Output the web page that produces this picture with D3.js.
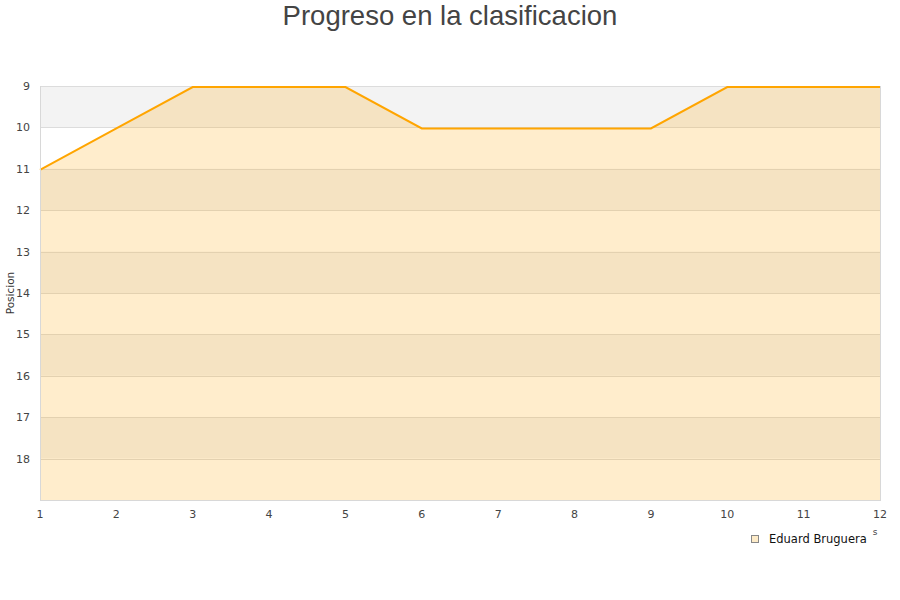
<!DOCTYPE html>
<html><head><meta charset="utf-8">
<script src="https://cdn.jsdelivr.net/npm/d3@7"></script>
<style>body{margin:0;background:#fff}svg{display:block}</style>
</head><body>
<svg id="c" width="900" height="600"></svg>
<script>
const rounds = [1,2,3,4,5,6,7,8,9,10,11,12];
const positions = [11,10,9,9,9,10,10,10,10,9,9,9];
const yTicks = [9,10,11,12,13,14,15,16,17,18];
const seriesName = "Eduard Bruguera";
const title = "Progreso en la clasificacion";
const yTitle = "Posicion";

const svg = d3.select("#c");
const L=40,R=880,T=86,B=500;
const x = d3.scaleLinear().domain([1,12]).range([L,R]);
const y = d3.scaleLinear().domain([9,19]).range([T,B]);

const bands = d3.range(9,19);
svg.selectAll("rect.band").data(bands).enter().append("rect")
  .attr("x",L).attr("width",R-L)
  .attr("y",d=>y(d)).attr("height",d=>y(d+1)-y(d))
  .attr("fill",(d,i)=>i%2===0?"#f3f3f3":"#ffffff");

svg.selectAll("line.grid").data(d3.range(9,20)).enter().append("line")
  .attr("x1",L).attr("x2",R)
  .attr("y1",d=>Math.round(y(d))+0.5).attr("y2",d=>Math.round(y(d))+0.5)
  .attr("stroke","#dcdcdc").attr("stroke-width",1);

const area = d3.area().x((d,i)=>x(rounds[i])).y0(B).y1(d=>y(d)+1);
svg.append("path").datum(positions).attr("d",area)
  .attr("fill","rgba(255,165,0,0.2)");

const line = d3.line().x((d,i)=>x(rounds[i])).y(d=>y(d)+1);
svg.append("path").datum(positions).attr("d",line)
  .attr("fill","none").attr("stroke","#ffa500").attr("stroke-width",2);

svg.append("line").attr("x1",L+0.5).attr("x2",L+0.5).attr("y1",T).attr("y2",B).attr("stroke","#d8d8d8");
svg.append("line").attr("x1",R+0.5).attr("x2",R+0.5).attr("y1",T).attr("y2",B).attr("stroke","#d8d8d8");
svg.append("line").attr("x1",L).attr("x2",R+1).attr("y1",B+0.5).attr("y2",B+0.5).attr("stroke","#d8d8d8");

const font = "'DejaVu Sans', sans-serif";
svg.selectAll("text.yt").data(yTicks).enter().append("text")
  .attr("x",30).attr("y",d=>y(d)+4).attr("text-anchor","end")
  .style("font-family",font).attr("font-size",11).attr("fill","#444").text(d=>d);
svg.selectAll("text.xt").data(rounds).enter().append("text")
  .attr("x",d=>x(d)).attr("y",518).attr("text-anchor","middle")
  .style("font-family",font).attr("font-size",11).attr("fill","#444").text(d=>d);

svg.append("text").attr("transform","translate(14,293) rotate(-90)")
  .attr("text-anchor","middle").style("font-family",font).attr("font-size",10.5).attr("fill","#333").text(yTitle);

svg.append("text").attr("x",875).attr("y",535).attr("text-anchor","middle")
  .style("font-family",font).attr("font-size",9).attr("fill","#444").text("s");

svg.append("text").attr("x",450).attr("y",25).attr("text-anchor","middle")
  .style("font-family","'Liberation Sans', Arial, sans-serif").attr("font-size",27.5).attr("fill","#444").text(title);

svg.append("rect").attr("x",751.5).attr("y",535.5).attr("width",7).attr("height",7)
  .attr("fill","#fdebc8").attr("stroke","#888").attr("stroke-width",1);
svg.append("text").attr("x",769).attr("y",543).style("font-family",font).attr("font-size",11.5)
  .attr("fill","#111").text(seriesName);
</script>
</body></html>
